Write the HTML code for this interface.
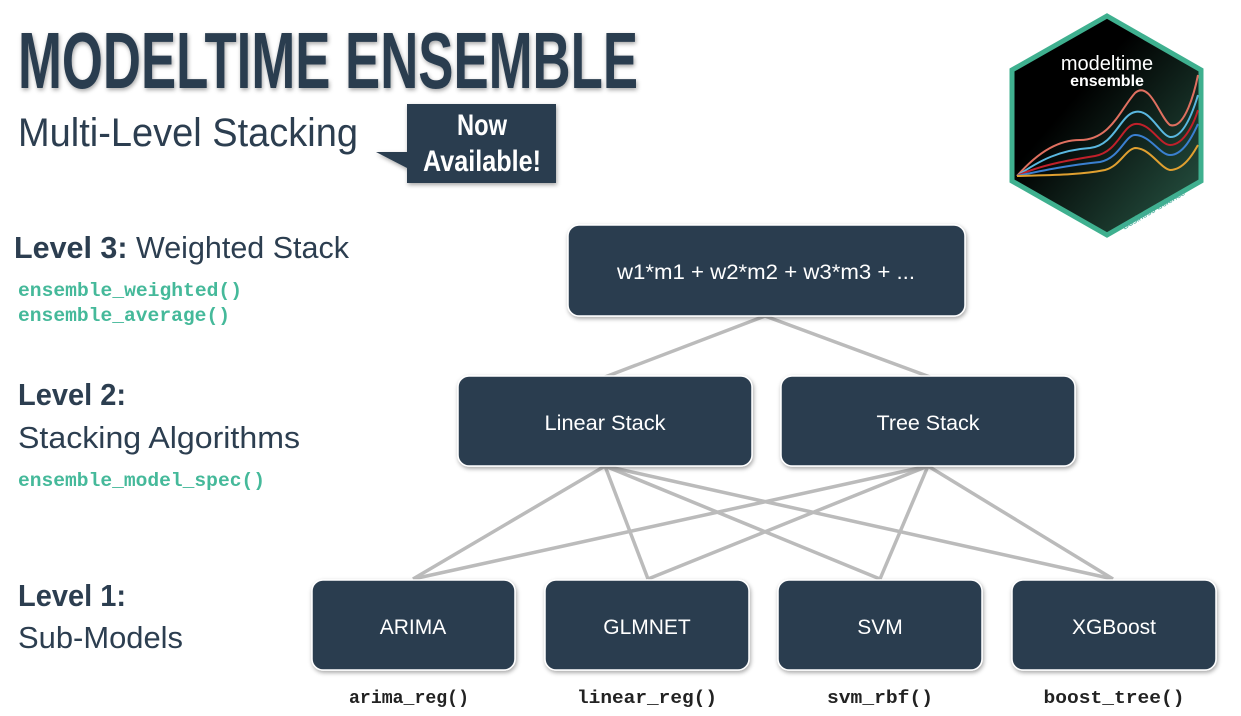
<!DOCTYPE html>
<html><head><meta charset="utf-8"><style>
html,body{margin:0;padding:0;background:#fff;width:1241px;height:716px;overflow:hidden}
svg{display:block}
.t{font-family:"Liberation Sans",sans-serif;fill:#2c3e50}
.m{font-family:"Liberation Mono",monospace;font-weight:bold;fill:#45b99a;font-size:19px}
.mb{font-family:"Liberation Mono",monospace;font-weight:bold;fill:#222;font-size:18px}
.bx{fill:#2c3e50;stroke:#fff;stroke-width:1.5}
.bl{font-family:"Liberation Sans",sans-serif;fill:#fff;font-size:21px}
.ln{stroke:#bbb;stroke-width:3.5}
</style></head><body>
<svg width="1241" height="716" viewBox="0 0 1241 716">
<defs>
<filter id="sh" x="-10%" y="-10%" width="130%" height="140%"><feDropShadow dx="1" dy="2" stdDeviation="2" flood-color="#000" flood-opacity="0.35"/></filter>
<linearGradient id="hg" x1="0" y1="0" x2="1" y2="1"><stop offset="0.35" stop-color="#000"/><stop offset="1" stop-color="#2a5a48"/></linearGradient>
</defs>
<text class="t" x="18" y="88" font-size="80" font-weight="bold" textLength="620" lengthAdjust="spacingAndGlyphs" filter="url(#sh)">MODELTIME ENSEMBLE</text>
<text class="t" x="18" y="146" font-size="40" textLength="340" lengthAdjust="spacingAndGlyphs">Multi-Level Stacking</text>
<polygon points="407,104 556,104 556,183 407,183 407,168 376,152 407,152" fill="#2c3e50" filter="url(#sh)"/>
<text x="482" y="135" font-family="Liberation Sans,sans-serif" font-weight="bold" font-size="30" fill="#fff" text-anchor="middle" textLength="50" lengthAdjust="spacingAndGlyphs">Now</text>
<text x="482" y="171" font-family="Liberation Sans,sans-serif" font-weight="bold" font-size="30" fill="#fff" text-anchor="middle" textLength="118" lengthAdjust="spacingAndGlyphs">Available!</text>
<!-- hex -->
<polygon points="1107,16 1201,70 1201,181 1107,235 1012,181 1012,70" fill="url(#hg)" stroke="#3fb08f" stroke-width="5"/>
<text x="1107" y="70" font-family="Liberation Sans,sans-serif" font-size="20" fill="#fff" text-anchor="middle">modeltime</text>
<text x="1107" y="86" font-family="Liberation Sans,sans-serif" font-size="16" font-weight="bold" fill="#fff" text-anchor="middle">ensemble</text>
<g fill="none" stroke-width="2">
<path d="M1017,176 C1040,150 1060,140 1080,140 C1110,140 1120,110 1135,93 C1150,80 1160,118 1170,125 C1185,130 1195,90 1198,75" stroke="#e07060"/>
<path d="M1017,176 C1040,160 1060,150 1090,148 C1115,145 1120,115 1135,112 C1150,108 1160,135 1170,137 C1185,138 1195,105 1198,95" stroke="#5ab8e0"/>
<path d="M1017,176 C1040,165 1070,160 1095,156 C1118,152 1122,126 1135,124 C1150,122 1160,145 1170,145 C1185,145 1195,120 1198,110" stroke="#c0202a"/>
<path d="M1017,176 C1045,170 1070,165 1100,162 C1120,158 1125,135 1135,135 C1150,135 1160,155 1170,155 C1185,155 1195,130 1198,124" stroke="#3a80d0"/>
<path d="M1017,176 C1050,175 1080,175 1105,170 C1120,166 1125,150 1135,148 C1150,148 1160,168 1170,170 C1185,170 1195,150 1198,145" stroke="#e0a030"/>
</g>
<text x="1155" y="212" font-family="Liberation Sans,sans-serif" font-size="9" fill="#4a9" transform="rotate(-30 1155 212)" text-anchor="middle">Business Science</text>
<!-- left labels -->
<text class="t" x="14" y="258" font-size="31" textLength="335" lengthAdjust="spacingAndGlyphs"><tspan font-weight="bold">Level 3:</tspan> Weighted Stack</text>
<text class="m" x="18" y="296" textLength="224" lengthAdjust="spacingAndGlyphs">ensemble_weighted()</text>
<text class="m" x="18" y="321" textLength="212" lengthAdjust="spacingAndGlyphs">ensemble_average()</text>
<text class="t" x="18" y="405" font-size="31" font-weight="bold" textLength="108" lengthAdjust="spacingAndGlyphs">Level 2:</text>
<text class="t" x="18" y="448" font-size="31" textLength="282" lengthAdjust="spacingAndGlyphs">Stacking Algorithms</text>
<text class="m" x="18" y="486" textLength="247" lengthAdjust="spacingAndGlyphs">ensemble_model_spec()</text>
<text class="t" x="18" y="606" font-size="31" font-weight="bold" textLength="108" lengthAdjust="spacingAndGlyphs">Level 1:</text>
<text class="t" x="18" y="648" font-size="31" textLength="165" lengthAdjust="spacingAndGlyphs">Sub-Models</text>
<!-- lines -->
<g class="ln">
<line x1="765" y1="316" x2="605" y2="377"/><line x1="765" y1="316" x2="930" y2="377"/>
<line x1="605" y1="466" x2="413" y2="579"/><line x1="605" y1="466" x2="648" y2="579"/><line x1="605" y1="466" x2="880" y2="579"/><line x1="605" y1="466" x2="1113" y2="579"/>
<line x1="928" y1="466" x2="413" y2="579"/><line x1="928" y1="466" x2="648" y2="579"/><line x1="928" y1="466" x2="880" y2="579"/><line x1="928" y1="466" x2="1113" y2="579"/>
</g>
<g filter="url(#sh)">
<rect class="bx" x="568" y="225" width="397" height="91" rx="11"/>
<rect class="bx" x="458" y="376" width="294" height="90" rx="11"/>
<rect class="bx" x="781" y="376" width="294" height="90" rx="11"/>
<rect class="bx" x="312" y="580" width="203" height="90" rx="11"/>
<rect class="bx" x="545" y="580" width="204" height="90" rx="11"/>
<rect class="bx" x="778" y="580" width="204" height="90" rx="11"/>
<rect class="bx" x="1012" y="580" width="204" height="90" rx="11"/>
</g>
<text class="bl" x="766" y="279" text-anchor="middle" font-size="22" textLength="298" lengthAdjust="spacingAndGlyphs">w1*m1 + w2*m2 + w3*m3 + ...</text>
<text class="bl" x="605" y="430" text-anchor="middle" font-size="22" textLength="121" lengthAdjust="spacingAndGlyphs">Linear Stack</text>
<text class="bl" x="928" y="430" text-anchor="middle" font-size="22" textLength="103" lengthAdjust="spacingAndGlyphs">Tree Stack</text>
<text class="bl" x="413" y="634" text-anchor="middle">ARIMA</text>
<text class="bl" x="647" y="634" text-anchor="middle">GLMNET</text>
<text class="bl" x="880" y="634" text-anchor="middle">SVM</text>
<text class="bl" x="1114" y="634" text-anchor="middle">XGBoost</text>
<text class="mb" x="409" y="703" text-anchor="middle" textLength="120" lengthAdjust="spacingAndGlyphs">arima_reg()</text>
<text class="mb" x="647" y="703" text-anchor="middle" textLength="140" lengthAdjust="spacingAndGlyphs">linear_reg()</text>
<text class="mb" x="880" y="703" text-anchor="middle" textLength="106" lengthAdjust="spacingAndGlyphs">svm_rbf()</text>
<text class="mb" x="1114" y="703" text-anchor="middle" textLength="141" lengthAdjust="spacingAndGlyphs">boost_tree()</text>
</svg>
</body></html>
